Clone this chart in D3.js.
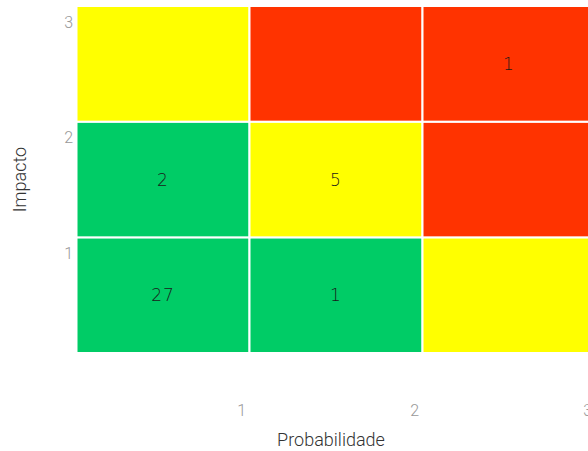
<!DOCTYPE html>
<html>
<head>
<meta charset="utf-8">
<script src="https://cdn.jsdelivr.net/npm/d3@7"></script>
<style>
  html, body { margin: 0; padding: 0; background: #fff; }
  svg { display: block; }
</style>
</head>
<body>
<svg id="chart" width="588" height="451"></svg>
<script>
// Risk matrix: probability (columns) × impact (rows)
const probLevels = [1, 2, 3];
const impactLevels = [1, 2, 3];
// risk level of each cell, listed by impact row (1..3), then probability (1..3)
const riskLevels = [
  ["low", "low", "medium"],    // impact 1
  ["low", "medium", "high"],   // impact 2
  ["medium", "high", "high"]   // impact 3
];
// number of risks in each cell (null = none)
const riskCounts = [
  [27, 1, null],
  [2, 5, null],
  [null, null, 1]
];
const levelNames = ["low", "medium", "high"];
const levelColors = ["#00cc66", "#ffff00", "#ff3300"];
const xTitle = "Probabilidade";
const yTitle = "Impacto";

const svg = d3.select("#chart");
const W = 588, H = 451;

const x = d3.scaleLinear().domain([0, 3]).range([76.5, 595.5]);
const y = d3.scaleLinear().domain([0, 3]).range([353, 6]);
const color = d3.scaleOrdinal().domain(levelNames).range(levelColors);

const cells = [];
impactLevels.forEach((imp, r) => {
  probLevels.forEach((p, c) => {
    cells.push({ prob: p, impact: imp, level: riskLevels[r][c], count: riskCounts[r][c] });
  });
});

const g = svg.append("g");
g.selectAll("rect.cell")
  .data(cells)
  .join("rect")
  .attr("class", "cell")
  .attr("x", d => x(d.prob - 1))
  .attr("y", d => y(d.impact))
  .attr("width", d => x(d.prob) - x(d.prob - 1))
  .attr("height", d => y(d.impact - 1) - y(d.impact))
  .attr("fill", d => color(d.level))
  .attr("stroke", "#fff")
  .attr("stroke-width", 2);

g.selectAll("text.count")
  .data(cells.filter(d => d.count != null))
  .join("text")
  .attr("class", "count")
  .attr("x", d => x(d.prob - 0.5))
  .attr("y", d => y(d.impact - 0.5))
  .attr("text-anchor", "middle")
  .attr("dominant-baseline", "central")
  .attr("font-family", "DejaVu Sans")
  .attr("font-weight", 200)
  .attr("font-size", 17)
  .attr("letter-spacing", 1)
  .attr("fill", "#1a1a1a")
  .text(d => d.count);

// x axis: labels sit at the right edge of each column
const xAxis = svg.append("g")
  .attr("transform", `translate(0,416)`)
  .call(d3.axisBottom(x).tickValues(probLevels).tickSize(0).tickFormat(d3.format("d")));
xAxis.select(".domain").remove();
xAxis.selectAll("text")
  .attr("y", 0).attr("dy", 0)
  .attr("dx", -4)
  .attr("text-anchor", "end")
  .attr("font-family", "Roboto").attr("font-weight", 300)
  .attr("font-size", 16).attr("fill", "#999");

// y axis: labels sit at the top of each row
const yAxis = svg.append("g")
  .attr("transform", `translate(73,0)`)
  .call(d3.axisLeft(y).tickValues(impactLevels).tickSize(0).tickFormat(d3.format("d")));
yAxis.select(".domain").remove();
yAxis.selectAll("text")
  .attr("x", 0).attr("dy", 21)
  .attr("text-anchor", "end")
  .attr("font-family", "Roboto").attr("font-weight", 300)
  .attr("font-size", 16).attr("fill", "#999");

svg.append("text")
  .attr("x", 331)
  .attr("y", 446)
  .attr("text-anchor", "middle")
  .attr("font-family", "Roboto").attr("font-weight", 300)
  .attr("font-size", 18).attr("fill", "#333")
  .text(xTitle);

svg.append("text")
  .attr("transform", `translate(26,${(y(0) + y(3)) / 2}) rotate(-90)`)
  .attr("text-anchor", "middle")
  .attr("font-family", "Roboto").attr("font-weight", 300)
  .attr("font-size", 18).attr("fill", "#333")
  .text(yTitle);
</script>
</body>
</html>
